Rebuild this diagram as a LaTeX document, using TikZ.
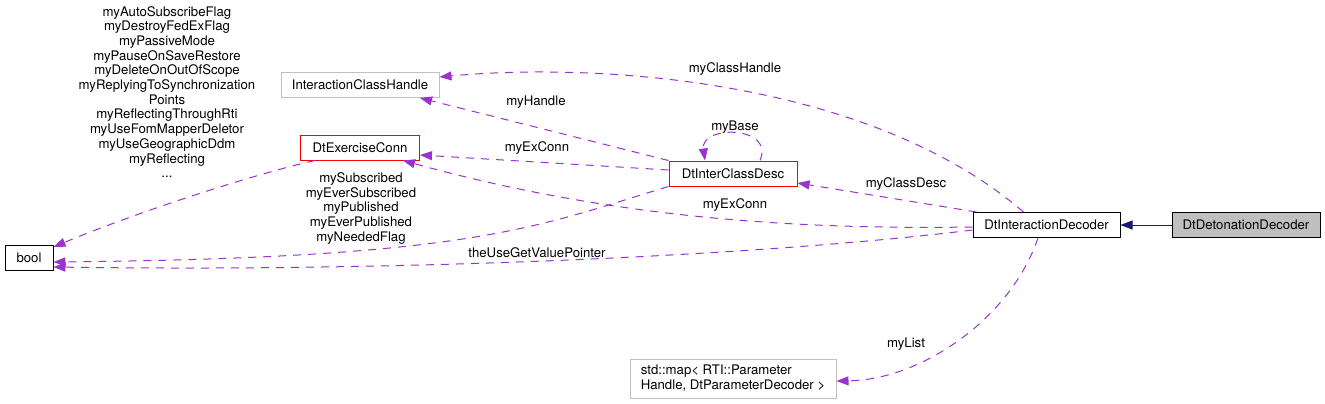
\documentclass[tikz,border=0pt]{standalone}
\usepackage{fontspec}
\setmainfont{TeX Gyre Heros}
\usetikzlibrary{arrows.meta}
\usetikzlibrary{positioning}

\definecolor{relcol}{HTML}{9A32CD}
\definecolor{isacol}{HTML}{191970}
\definecolor{extcol}{HTML}{BFBFBF}

\begin{document}
\begin{tikzpicture}[x=1pt, y=-1pt,
    font=\fontsize{13.2}{14.7}\selectfont,
    cls/.style={draw, line width=1pt, inner sep=0pt, minimum height=25pt},
    rel/.style={relcol, line width=1pt, dash pattern=on 8pt off 7pt, -{Triangle[length=12pt,width=9pt]}},
    isa/.style={isacol, line width=1pt, -{Triangle[length=12pt,width=9pt]}}]
  \useasboundingbox (0,0) rectangle (1325,404);

  \node [cls, minimum width=48pt] (iBool) at (29,258) {bool};
  \node [cls, draw=extcol, minimum width=158pt] (iHandle) at (360,85) {InteractionClassHandle};
  \node [cls, draw=red, minimum width=119pt] (iExConn) at (360,147.5) {DtExerciseConn};
  \node [cls, draw=red, minimum width=128pt] (iClassDesc) at (733,173.5) {DtInterClassDesc};
  \node [cls, minimum width=147pt] (iDecoder) at (1046.5,225) {DtInteractionDecoder};
  \node [cls, fill=extcol, minimum width=148pt, right=51pt of iDecoder] (iDetonation) {DtDetonationDecoder};
  \node [cls, draw=extcol, minimum width=206pt, minimum height=39pt, align=left] (iMap) at (733,378.5)
    {std::map< RTI::Parameter\\Handle, DtParameterDecoder >};

  \node [align=center] (lFlags) at (167,92) {myAutoSubscribeFlag\\myDestroyFedExFlag\\myPassiveMode\\myPauseOnSaveRestore\\myDeleteOnOutOfScope\\myReplyingToSynchronization\\Points\\myReflectingThroughRti\\myUseFomMapperDeletor\\myUseGeographicDdm\\myReflecting\\...};
  \node [align=center] (lPubSub) at (361,208.5) {mySubscribed\\myEverSubscribed\\myPublished\\myEverPublished\\myNeededFlag};
  \node (lClassHandle) at (735,69) {myClassHandle};
  \node (lHandle) at (536,102) {myHandle};
  \node (lBase) at (735,127) {myBase};
  \node (lExConn) at (537,148) {myExConn};
  \node (lClassDesc) at (906,184) {myClassDesc};
  \node (lDecExConn) at (735,205) {myExConn};
  \node (lValuePtr) at (537,253) {theUseGetValuePointer};
  \node (lList) at (906,344) {myList};

  \draw [isa] (iDetonation) -- (iDecoder);
  \draw [rel] ([xshift=-23pt]iDecoder.north) .. controls (870,80) and (600,62) .. ([yshift=8pt]iHandle.east);
  \draw [rel] ([xshift=4pt]iDecoder.north west) -- ([yshift=-9.5pt]iClassDesc.east);
  \draw [rel] ([yshift=-2pt]iDecoder.west) .. controls (780,230) and (600,215) .. ([xshift=43pt]iExConn.south);
  \draw [rel] ([yshift=-5pt]iDecoder.west) .. controls (760,256) and (400,272) .. ([yshift=-9pt]iBool.east);
  \draw [rel] ([xshift=-8.5pt]iDecoder.south) .. controls (1010,320) and (920,380) .. ([yshift=-2.5pt]iMap.east);
  \draw [rel] (iClassDesc.north west) -- ([xshift=60pt]iHandle.south);
  \draw [rel] ([yshift=3.5pt]iClassDesc.west) -- ([yshift=-7.5pt]iExConn.east);
  \draw [rel] ([xshift=27pt]iClassDesc.north) .. controls (775,125) and (700,125) .. ([xshift=-28pt]iClassDesc.north);
  \draw [rel] (iClassDesc.south west) .. controls (540,225) and (480,258) .. ([yshift=-4pt]iBool.east);
  \draw [rel] ([xshift=-45pt]iExConn.south) .. controls (250,175) and (130,215) .. ([yshift=11pt]iBool.east);
\end{tikzpicture}
\end{document}
